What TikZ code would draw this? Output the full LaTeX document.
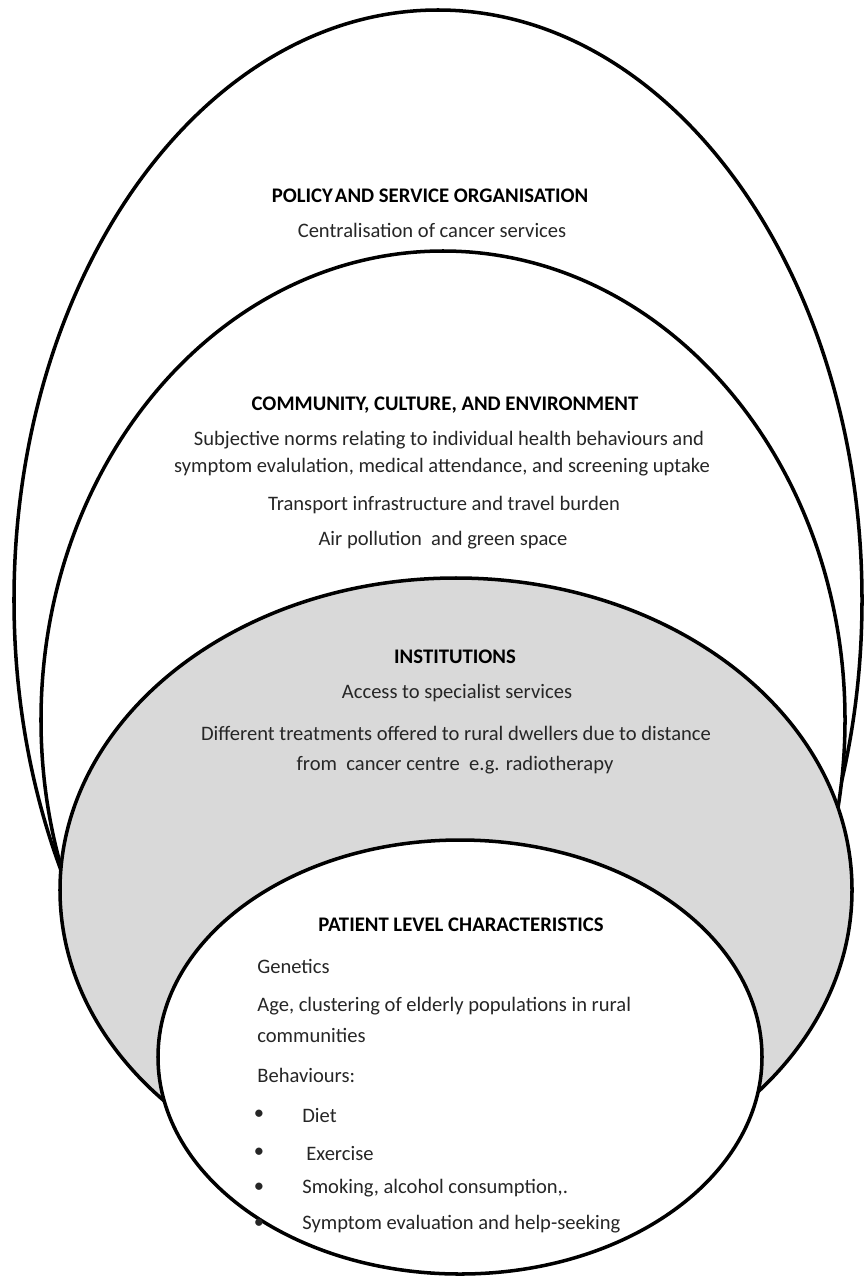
\documentclass[tikz,border=0pt]{standalone}
\usepackage{fontspec}
\setmainfont{Carlito}
\usepackage{xcolor}
\usetikzlibrary{positioning}
\definecolor{instgray}{RGB}{217,217,217}
\tikzset{
	ring/.style={draw=black, line width=2pt},
	head/.style={font=\fontsize{11.8}{14}\selectfont\bfseries, inner sep=0pt},
	txt/.style={font=\fontsize{11.7}{14}\selectfont, text=black!85, inner sep=0pt},
}

\begin{document}
\begin{tikzpicture}[x=0.02cm,y=-0.02cm]
	\useasboundingbox (0,0) rectangle (864,1277);
	
	% the four levels, outer to inner
	\filldraw [ring,fill=white] (438,600) ellipse [x radius=424, y radius=590];
	\filldraw [ring,fill=white] (443,720) ellipse [x radius=402, y radius=469];
	\filldraw [ring,fill=instgray] (456,890) ellipse [x radius=396, y radius=312];
	\filldraw [ring,fill=white] (460,1057) ellipse [x radius=302, y radius=217];
	
	% policy
	\node [head] (policy) at (430,196) {POLICY\kern.1em AND SERVICE ORGANISATION};
	\node [txt] (central) at (432,230) {Centralisation of cancer services};
	
	% community
	\node [head] (community) at (445,405) {COMMUNITY, CULTURE, AND ENVIRONMENT};
	\node [txt] (norms) at (449,440) {Subjective norms relating to individual health behaviours and};
	\node [txt] (symptom) at (442,467) {symptom evalulation, medical attendance, and screening uptake};
	\node [txt] (transport) at (444,505) {Transport infrastructure and travel burden};
	\node [txt] (air) at (443,540) {Air pollution \ and green space};
	
	% institutions
	\node [head] (inst) at (455,657) {INSTITUTIONS};
	\node [txt] (access) at (457,693) {Access to specialist services};
	\node [txt] (treat) at (456,733) {Different treatments offered to rural dwellers due to distance};
	\node [txt] (centre) at (455,765) {from \ cancer centre \ e.g. radiotherapy};
	
	% patient
	\node [head] (patient) at (461,925) {PATIENT LEVEL CHARACTERISTICS};
	\node [txt,anchor=west] (genetics) at (257,966) {Genetics};
	\node [txt,anchor=west] (age) at (257,1006) {Age, clustering of elderly populations in rural};
	\node [txt,anchor=west] (comm) at (257,1035) {communities};
	\node [txt,anchor=west] (behav) at (257,1075) {Behaviours:};
	\foreach \yy/\xx/\item [count=\i] in {1115/302/Diet, 1153/306/Exercise,
		1188/302/{Smoking, alcohol consumption,.}, 1224/302/Symptom evaluation and help-seeking}{
		\node [txt] (bul\i) at (259,\yy) {\textbullet};
		\node [txt,anchor=west] (item\i) at (\xx,\yy) {\item};
	}
	
\end{tikzpicture}
\end{document}
